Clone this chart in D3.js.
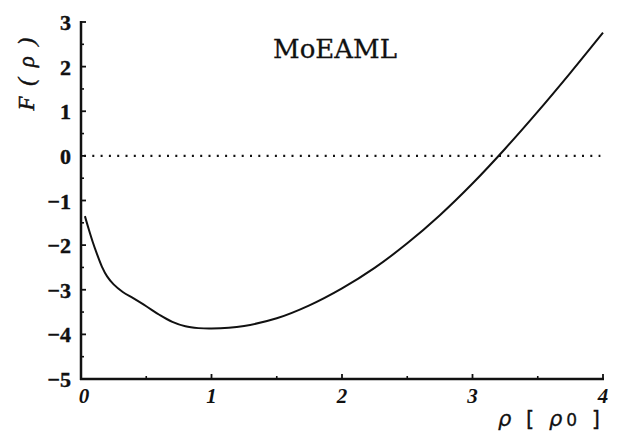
<!DOCTYPE html>
<html><head><meta charset="utf-8">
<script src="https://cdn.jsdelivr.net/npm/d3@7"></script>
<style>body{margin:0;background:#fff}svg{display:block}</style>
</head><body>
<svg id="c" width="628" height="439"></svg>
<script>
const rhoValues = [0.03,0.06,0.09,0.12,0.16,0.2,0.25,0.32,0.4,0.5,0.6,0.7,0.8,0.9,1.0,1.25,1.5,1.75,2.0,2.25,2.5,2.75,3.0,3.25,3.5,3.75,4.0];
const fValues   = [-1.35,-1.65,-1.93,-2.18,-2.48,-2.7,-2.88,-3.05,-3.19,-3.37,-3.56,-3.72,-3.82,-3.86,-3.87,-3.81,-3.64,-3.35,-2.97,-2.51,-1.96,-1.33,-0.62,0.16,0.99,1.86,2.76];
const xTicks = [0,1,2,3,4];
const yTicks = [3,2,1,0,-1,-2,-3,-4,-5];
const xMinor = [0.5,1.5,2.5,3.5];
const yMinor = [2.5,1.5,0.5,-0.5,-1.5,-2.5,-3.5,-4.5];
const title = "MoEAML";

const svg = d3.select("#c");
const x = d3.scaleLinear().domain([0,4]).range([81,603]);
const y = d3.scaleLinear().domain([-5,3]).range([379,22]);
const ink = "#111";

// zero line (dotted)
svg.append("line").attr("x1",x(0)+3).attr("x2",x(3.98)).attr("y1",y(0)).attr("y2",y(0))
  .attr("stroke",ink).attr("stroke-width",2.2).attr("stroke-dasharray","2,6.3");

// axes lines
svg.append("line").attr("x1",x(0)).attr("x2",x(0)).attr("y1",y(3)-1).attr("y2",y(-5)+1)
  .attr("stroke",ink).attr("stroke-width",2.5);
svg.append("line").attr("x1",x(0)-1).attr("x2",x(4)+1).attr("y1",y(-5)).attr("y2",y(-5))
  .attr("stroke",ink).attr("stroke-width",2.5);

// y ticks (inward)
svg.selectAll(".yt").data(yTicks).enter().append("line")
  .attr("x1",x(0)).attr("x2",x(0)+5).attr("y1",d=>y(d)).attr("y2",d=>y(d))
  .attr("stroke",ink).attr("stroke-width",1.8);
svg.selectAll(".ym").data(yMinor).enter().append("line")
  .attr("x1",x(0)).attr("x2",x(0)+3).attr("y1",d=>y(d)).attr("y2",d=>y(d))
  .attr("stroke",ink).attr("stroke-width",1.6);
// x ticks (inward)
svg.selectAll(".xt").data(xTicks.slice(1)).enter().append("line")
  .attr("x1",d=>x(d)).attr("x2",d=>x(d)).attr("y1",y(-5)).attr("y2",y(-5)-5)
  .attr("stroke",ink).attr("stroke-width",1.8);
svg.selectAll(".xm").data(xMinor).enter().append("line")
  .attr("x1",d=>x(d)).attr("x2",d=>x(d)).attr("y1",y(-5)).attr("y2",y(-5)-3)
  .attr("stroke",ink).attr("stroke-width",1.6);

// y tick labels
svg.selectAll(".yl").data(yTicks).enter().append("text")
  .attr("x",71).attr("y",d=>y(d)+8)
  .attr("text-anchor","end").attr("font-family","Liberation Serif").attr("font-weight","bold")
  .attr("font-size",22).attr("fill",ink).attr("stroke",ink).attr("stroke-width",0.4)
  .text(d=>d<0?"\u2212"+Math.abs(d):d);
// x tick labels
svg.selectAll(".xl").data(xTicks).enter().append("text")
  .attr("x",d=>x(d)+(d===0?3:0)).attr("y",403)
  .attr("text-anchor","middle").attr("font-family","Liberation Serif").attr("font-weight","bold")
  .attr("font-style","italic").attr("font-size",21).attr("fill",ink)
  .text(d=>d);

// curve
const pts = rhoValues.map((r,i)=>[r,fValues[i]]);
svg.append("path").datum(pts)
  .attr("d",d3.line().x(d=>x(d[0])).y(d=>y(d[1])).curve(d3.curveCatmullRom.alpha(0.5)))
  .attr("fill","none").attr("stroke",ink).attr("stroke-width",2);

// title
svg.append("text").attr("x",335).attr("y",58).attr("text-anchor","middle")
  .attr("font-family","DejaVu Serif").attr("font-size",26).attr("fill",ink)
  .attr("stroke",ink).attr("stroke-width",0.3).text(title);

// y axis label
svg.append("text").attr("transform","translate(34,73) rotate(-90)")
  .attr("text-anchor","middle").attr("font-family","Liberation Serif").attr("font-style","italic")
  .attr("font-size",23).attr("letter-spacing",2.5).attr("fill",ink)
  .attr("stroke",ink).attr("stroke-width",0.5)
  .text("F ( \u03C1 )");

// x axis label
const xl = svg.append("text").attr("x",604).attr("y",426).attr("text-anchor","end")
  .attr("font-family","DejaVu Sans").attr("font-size",21).attr("letter-spacing",4).attr("fill",ink)
  .attr("stroke",ink).attr("stroke-width",0.3)
  .attr("style","white-space:pre");
xl.append("tspan").attr("font-style","italic").text("\u03C1");
xl.append("tspan").text(" [ ");
xl.append("tspan").attr("font-style","italic").text("\u03C1");
xl.append("tspan").attr("font-size",17).text("0");
xl.append("tspan").text(" ]");
</script>
</body></html>
